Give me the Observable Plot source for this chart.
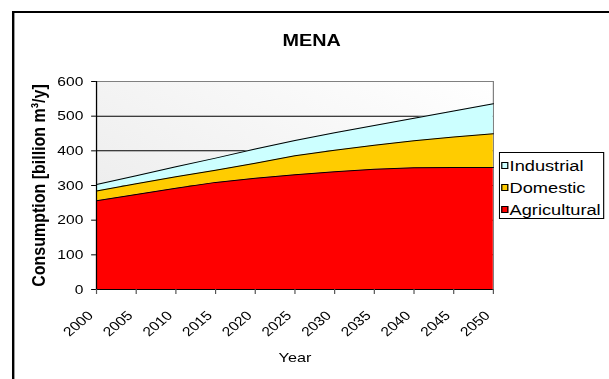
<!DOCTYPE html>
<html>
<head>
<meta charset="utf-8">
<script src="https://cdn.jsdelivr.net/npm/d3@7"></script>
<script src="https://cdn.jsdelivr.net/npm/@observablehq/plot@0.6"></script>
<style>
  html, body { margin: 0; padding: 0; background: #fff; overflow: hidden; }
  /* the chart is laid out narrow and widened horizontally as a whole */
  #chart {
    position: relative; width: 508px; height: 379px;
    transform: scaleX(1.199); transform-origin: 0 0;
    font-family: "Liberation Sans", Arial, sans-serif; color: #000;
  }
  #chart svg { position: absolute; left: 0; top: 0; }
  #border {
    position: absolute; left: 10px; top: 11px; width: 620px; height: 420px;
    border: 2px solid #000; box-sizing: border-box; pointer-events: none;
  }
  #title {
    position: absolute; left: 0; width: 520px; top: 30px; line-height: 20px;
    text-align: center; font-weight: bold; font-size: 16.5px;
  }
  #legend {
    position: absolute; left: 416px; top: 152px; width: 88px; height: 67px;
    border: 1px solid #000; box-sizing: border-box; background: #fff;
    padding-top: 1px;
  }
  .row { display: flex; align-items: center; height: 22px; font-size: 15.2px; white-space: nowrap; }
  .sw { width: 4px; height: 5px; border: 1px solid #000; margin: 0 1px 0 1px; flex: none; }
</style>
</head>
<body>
<div id="chart">
  <div id="border"></div>
  <div id="title"></div>
  <div id="legend"></div>
</div>
<script>
// Water consumption in the MENA region, billion m³ per year
const title = "MENA";
const years = [2000, 2005, 2010, 2015, 2020, 2025, 2030, 2035, 2040, 2045, 2050];
const agricultural = [256, 274, 292, 309, 321, 331, 340, 347, 351, 352, 352];
const domestic     = [28, 31, 33, 35, 43, 55, 62, 69, 78, 88, 97];
const industrial   = [19, 23, 29, 35, 41, 44, 50, 57, 65, 75, 87];
const yTicks = [0, 100, 200, 300, 400, 500, 600];
const stackOrder = ["Agricultural", "Domestic", "Industrial"];   // bottom to top
const legendOrder = ["Industrial", "Domestic", "Agricultural"];  // top to bottom
const colors = {Agricultural: "#ff0000", Domestic: "#ffcc00", Industrial: "#ccffff"};
const yLabel = "Consumption [billion m³/y]";
const xLabel = "Year";

const valuesBySeries = {Agricultural: agricultural, Domestic: domestic, Industrial: industrial};
const rows = stackOrder.flatMap(series =>
  years.map((year, i) => ({year, series, value: valuesBySeries[series][i]}))
);

const W = 508, H = 379;
const chart = Plot.plot({
  width: W,
  height: H,
  marginLeft: 80,
  marginRight: 97,
  marginTop: 81,
  marginBottom: 90,
  style: {fontFamily: "'Liberation Sans', Arial, sans-serif", fontSize: "13px", color: "#000", background: "transparent", overflow: "visible"},
  x: {domain: [years[0], years[years.length - 1]]},
  y: {domain: [yTicks[0], yTicks[yTicks.length - 1]]},
  color: {domain: stackOrder, range: stackOrder.map(s => colors[s])},
  marks: [
    Plot.frame({fill: "url(#plotBg)", stroke: "#808080"}),
    Plot.ruleY(yTicks.slice(1, -1), {stroke: "#000", strokeWidth: 1}),
    Plot.areaY(rows, {x: "year", y: "value", z: "series", fill: "series", order: stackOrder}),
    Plot.lineY(rows, Plot.stackY2({x: "year", y: "value", z: "series", order: stackOrder, stroke: "#000", strokeWidth: 1})),
    Plot.ruleY([yTicks[0]], {stroke: "#000"}),
    Plot.ruleX([years[0]], {stroke: "#000"}),
    Plot.axisY({ticks: yTicks, tickSize: 4, tickPadding: 7, label: yLabel, labelAnchor: "center", labelArrow: "none", labelOffset: 54}),
    Plot.axisX({ticks: years, tickFormat: d => String(d), tickSize: 5, tickPadding: 4, tickRotate: -45, stroke: "#555",
                label: xLabel, labelAnchor: "center", labelArrow: "none", labelOffset: 72})
  ]
});

// soft diagonal shading behind the plotting area
const svg = d3.select(chart);
const grad = svg.insert("defs", ":first-child").append("linearGradient")
  .attr("id", "plotBg").attr("x1", 0).attr("y1", 1).attr("x2", 1).attr("y2", 0);
grad.append("stop").attr("offset", 0).attr("stop-color", "#e8e8e8");
grad.append("stop").attr("offset", 1).attr("stop-color", "#ffffff");

// bold, larger y axis title
svg.selectAll('[aria-label="y-axis label"] text')
  .attr("font-weight", "bold").attr("font-size", "16px");
svg.selectAll('[aria-label="x-axis label"] text').attr("font-size", "13.5px");
svg.selectAll('[aria-label="x-axis tick label"] text, [aria-label="y-axis tick label"] text').attr("fill", "#000");
// rotated year labels sit a little lower and to the left of their ticks
const xt = svg.select('g[aria-label="x-axis tick label"]');
xt.attr("transform", ((xt.attr("transform") || "") + " translate(-5,15)").trim());

const root = document.getElementById("chart");
root.insertBefore(chart, root.firstChild);
document.getElementById("title").textContent = title;

const legend = d3.select("#legend");
for (const s of legendOrder) {
  const row = legend.append("div").attr("class", "row");
  row.append("div").attr("class", "sw").style("background", colors[s]);
  row.append("span").text(s);
}
</script>
</body>
</html>
